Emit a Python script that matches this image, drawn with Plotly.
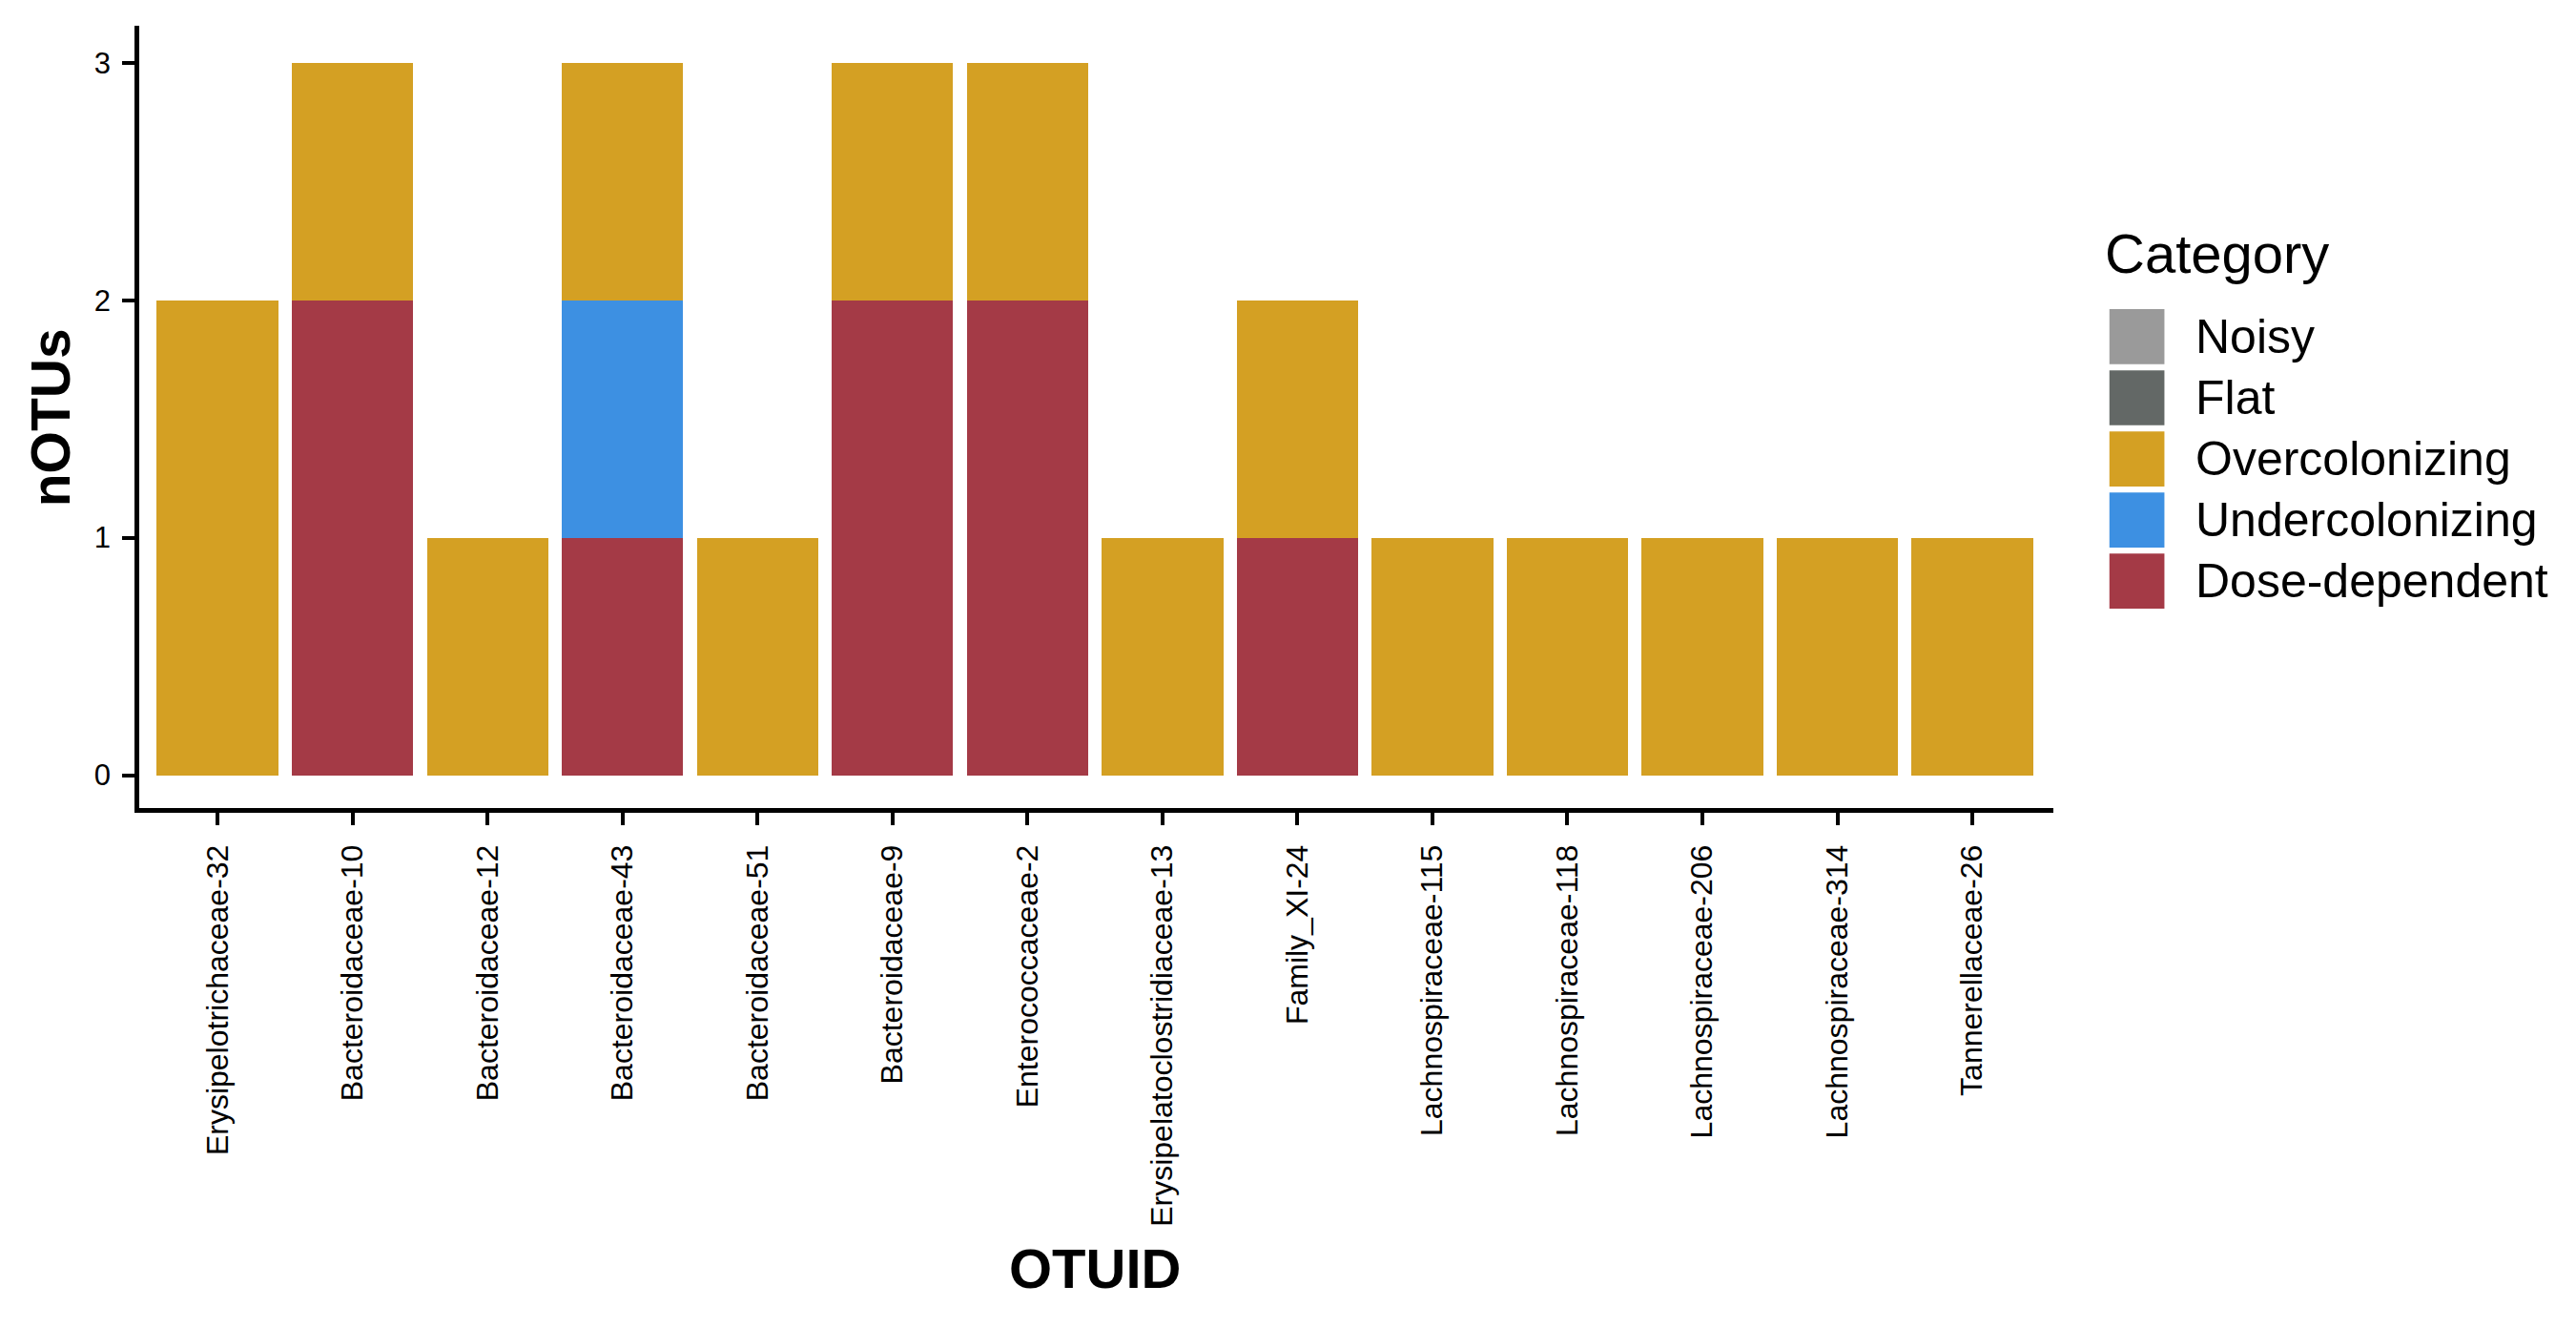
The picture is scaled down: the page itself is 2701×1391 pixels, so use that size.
import plotly.graph_objects as go

# ---------------- data ----------------
otu_ids = [
    "Erysipelotrichaceae-32", "Bacteroidaceae-10", "Bacteroidaceae-12",
    "Bacteroidaceae-43", "Bacteroidaceae-51", "Bacteroidaceae-9",
    "Enterococcaceae-2", "Erysipelatoclostridiaceae-13", "Family_XI-24",
    "Lachnospiraceae-115", "Lachnospiraceae-118", "Lachnospiraceae-206",
    "Lachnospiraceae-314", "Tannerellaceae-26",
]
categories = ["Noisy", "Flat", "Overcolonizing", "Undercolonizing", "Dose-dependent"]
category_colors = ["#9a9a9a", "#636866", "#d4a023", "#3d90e2", "#a43a46"]

noisy = [0, 0, 0, 0, 0, 0, 0, 0, 0, 0, 0, 0, 0, 0]
flat = [0, 0, 0, 0, 0, 0, 0, 0, 0, 0, 0, 0, 0, 0]
overcolonizing = [2, 1, 1, 1, 1, 1, 1, 1, 1, 1, 1, 1, 1, 1]
undercolonizing = [0, 0, 0, 1, 0, 0, 0, 0, 0, 0, 0, 0, 0, 0]
dose_dependent = [0, 2, 0, 1, 0, 2, 2, 0, 1, 0, 0, 0, 0, 0]

y_ticks = [0, 1, 2, 3]
x_title = "OTUID"
y_title = "nOTUs"
legend_title = "Category"

series = [noisy, flat, overcolonizing, undercolonizing, dose_dependent]

# ---------------- layout geometry (pixels) ----------------
W, H = 2701, 1391
L, R = 145.5, 2153.5
T, B = 27.0, 846.7
FONT = "Liberation Sans, Arial, sans-serif"

x_px_unit = 141.6
x0 = -(227.7 - L) / x_px_unit
x1 = x0 + (R - L) / x_px_unit
y_px_unit = 248.87
y_top = (812.3 - T) / y_px_unit
y_bot = -(B - 812.3) / y_px_unit

fig = go.Figure()
# ggplot stacks the first factor level on top -> add in reverse order
for name, vals, col in reversed(list(zip(categories, series, category_colors))):
    fig.add_trace(go.Bar(
        x=list(range(len(otu_ids))), y=vals, name=name,
        marker=dict(color=col, line=dict(width=0)),
        showlegend=False,
    ))


# paper coordinates are relative to the plot area
def px_x(p):
    return (p - L) / (R - L)


def px_y(p):
    return (B - p) / (B - T)


shapes = []
annotations = []

# manual legend (ggplot style)
key_x0, key_x1 = 2212.3, 2270.0
key_top0, key_h, key_step = 324.0, 57.7, 64.0
for i, (name, col) in enumerate(zip(categories, category_colors)):
    top = key_top0 + i * key_step
    shapes.append(dict(type="rect", xref="paper", yref="paper",
                       x0=px_x(key_x0), x1=px_x(key_x1),
                       y0=px_y(top + key_h), y1=px_y(top),
                       fillcolor=col, line=dict(width=0), layer="above"))
    annotations.append(dict(xref="paper", yref="paper",
                            x=px_x(2301), y=px_y(top + key_h / 2),
                            xanchor="left", yanchor="middle", showarrow=False,
                            text=name, font=dict(family=FONT, size=50, color="black")))

annotations.append(dict(xref="paper", yref="paper", x=px_x(2206), y=px_y(265),
                        xanchor="left", yanchor="middle", showarrow=False,
                        text=legend_title, font=dict(family=FONT, size=58, color="black")))

# axis titles
annotations.append(dict(xref="paper", yref="paper", x=px_x(1148), y=px_y(1329),
                        xanchor="center", yanchor="middle", showarrow=False,
                        text="<b>" + x_title + "</b>",
                        font=dict(family=FONT, size=58, color="black")))
annotations.append(dict(xref="paper", yref="paper", x=px_x(52.5), y=px_y(438),
                        xanchor="center", yanchor="middle", showarrow=False, textangle=-90,
                        text="<b>" + y_title + "</b>",
                        font=dict(family=FONT, size=57, color="black")))

fig.update_layout(
    width=W, height=H,
    margin=dict(l=L, r=W - R, t=T, b=H - B, pad=0),
    paper_bgcolor="white", plot_bgcolor="white",
    barmode="stack", bargap=0.1,
    showlegend=False,
    font=dict(family=FONT, color="black"),
    shapes=shapes, annotations=annotations,
    xaxis=dict(
        range=[x0, x1], tickmode="array",
        tickvals=list(range(len(otu_ids))), ticktext=otu_ids,
        tickangle=-90, tickfont=dict(family=FONT, size=32, color="black"),
        showline=True, linecolor="black", linewidth=4.6,
        ticks="outside", ticklen=13, tickwidth=4.3, tickcolor="black",
        showgrid=False, zeroline=False, ticklabelstandoff=8,
    ),
    yaxis=dict(
        range=[y_bot, y_top], tickmode="array", tickvals=y_ticks,
        ticktext=[str(v) for v in y_ticks],
        tickfont=dict(family=FONT, size=31, color="black"),
        showline=True, linecolor="black", linewidth=4.6,
        ticks="outside", ticklen=13, tickwidth=4.3, tickcolor="black",
        showgrid=False, zeroline=False, ticklabelstandoff=6,
    ),
)

fig.write_html("out.html")
